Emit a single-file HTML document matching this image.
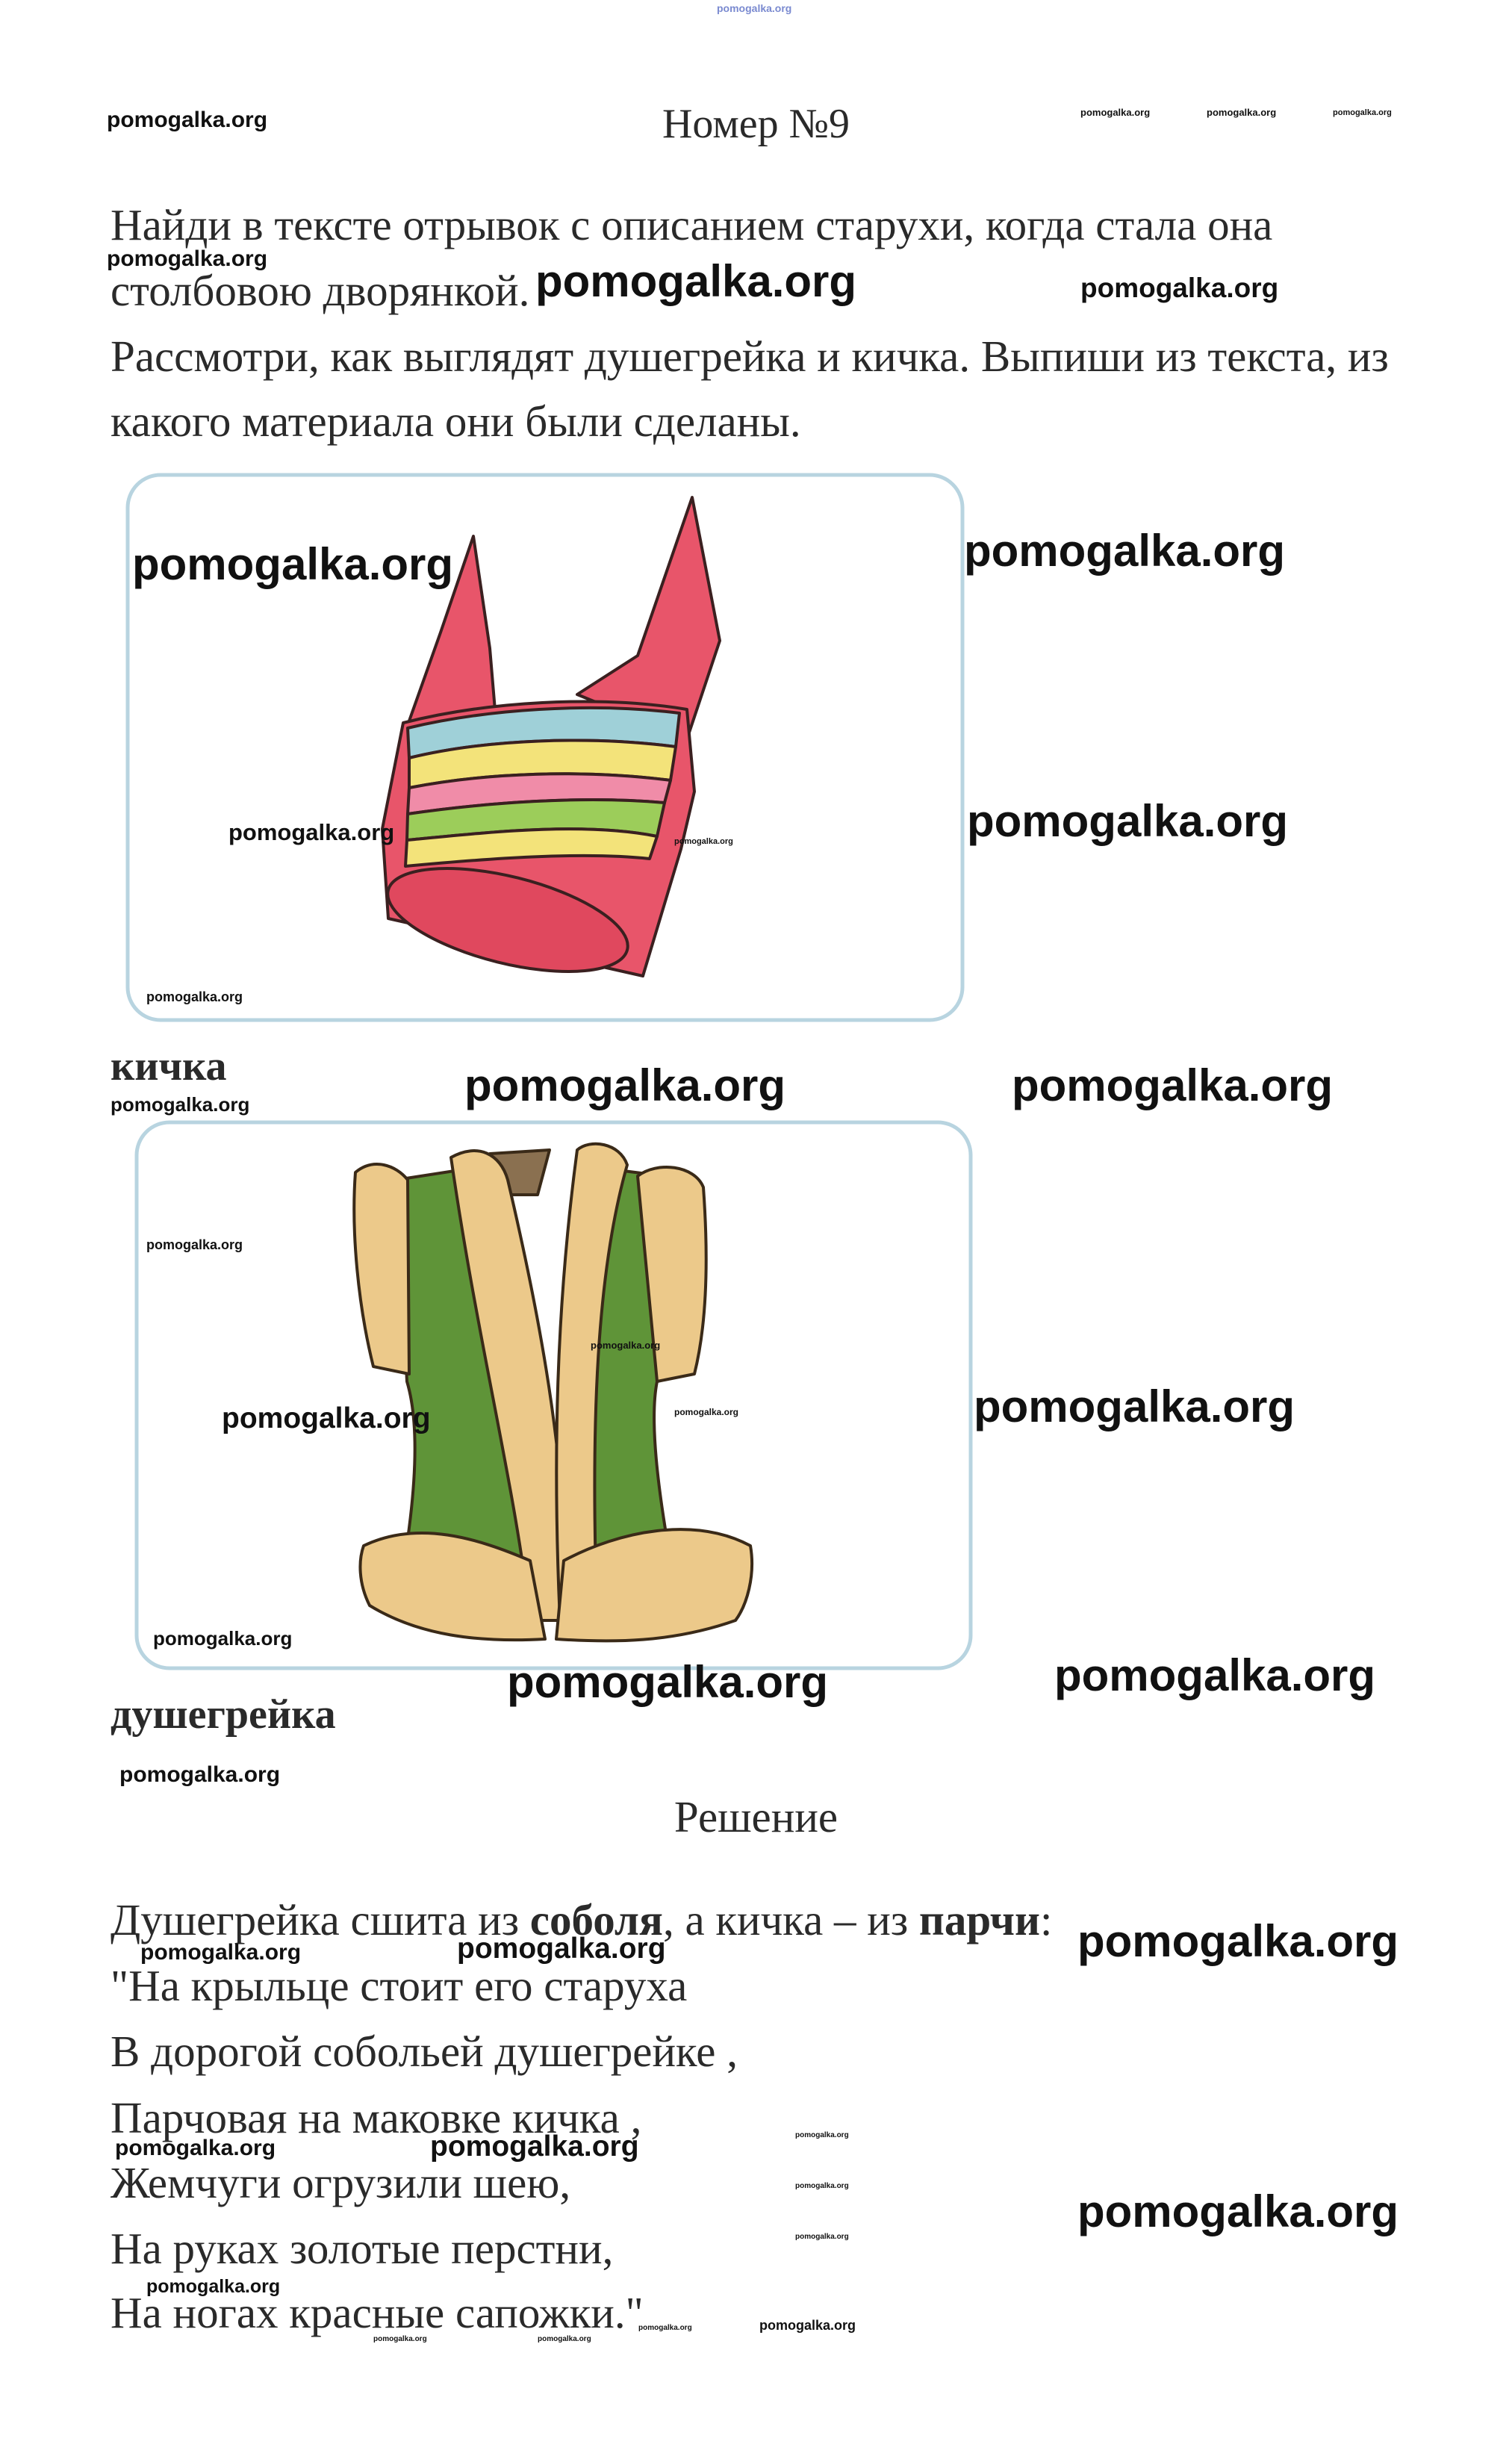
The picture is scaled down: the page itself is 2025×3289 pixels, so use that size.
<!DOCTYPE html>
<html><head><meta charset="utf-8"><style>
html,body{margin:0;padding:0;background:#fff}
body{width:2025px;height:3289px;position:relative;overflow:hidden}
.t{position:absolute;white-space:nowrap;line-height:1;font-family:"Liberation Serif","Noto Serif CJK SC",serif;color:#2a2a2a;font-size:59px}
.w{position:absolute;white-space:nowrap;line-height:1;font-family:"Liberation Sans","DejaVu Sans",sans-serif;color:#111;font-weight:bold}
svg{position:absolute;left:0;top:0}
</style></head><body>
<svg width="2025" height="3289" viewBox="0 0 2025 3289">
<rect x="171" y="636" width="1118" height="730" rx="44" fill="#fff" stroke="#b8d4e0" stroke-width="5"/>
<rect x="183" y="1503" width="1117" height="731" rx="44" fill="#fff" stroke="#b8d4e0" stroke-width="5"/>
<g stroke="#3a2020" stroke-width="4" stroke-linejoin="round">
<path d="M546,971 L590,847 L634,718 L656,868 L663,951 Z" fill="#e8556a"/>
<path d="M773,930 L854,878 L927,666 L964,858 L920,990 Z" fill="#e8556a"/>
<path d="M540,968 C650,940 800,930 920,950 L930,1060 L912,1137 L861,1307 L520,1230 L512,1110 Z" fill="#e8556a"/>
<path d="M546,975 C650,950 790,940 910,955 L905,1000 C790,985 650,990 548,1015 Z" fill="#9fd0d8"/>
<path d="M548,1015 C650,990 790,985 905,1000 L898,1045 C780,1030 650,1035 548,1055 Z" fill="#f3e37a"/>
<path d="M548,1055 C650,1035 780,1030 898,1045 L890,1075 C780,1065 650,1075 546,1090 Z" fill="#f08ca8"/>
<path d="M546,1090 C650,1075 780,1065 890,1075 L880,1120 C780,1100 650,1115 545,1125 Z" fill="#9ccd5a"/>
<path d="M545,1125 C650,1115 780,1100 880,1120 L870,1150 C780,1140 650,1150 543,1160 Z" fill="#f3e37a"/>
<ellipse cx="680" cy="1232" rx="165" ry="58" transform="rotate(14 680 1232)" fill="#e0485e"/>
</g>
<g stroke="#3a2a18" stroke-width="4" stroke-linejoin="round">
<path d="M656,1545 L736,1540 L720,1600 L670,1600 Z" fill="#8a7050"/>
<path d="M531,1580 L660,1560 C700,1700 720,1900 740,2150 L540,2100 C560,1980 560,1900 545,1850 Z" fill="#5f9438"/>
<path d="M773,1560 L890,1575 L880,1850 C870,1900 880,1990 900,2100 L740,2150 C745,1950 750,1750 773,1560 Z" fill="#5f9438"/>
<path d="M476,1570 C500,1550 530,1560 546,1580 L548,1840 L500,1830 C480,1750 470,1650 476,1570 Z" fill="#ecc98a"/>
<path d="M854,1575 C880,1555 930,1560 942,1590 C950,1700 945,1780 930,1840 L880,1850 Z" fill="#ecc98a"/>
<path d="M604,1550 C640,1530 670,1545 680,1580 C720,1750 760,1950 760,2170 L710,2170 C690,1990 640,1800 604,1550 Z" fill="#ecc98a"/>
<path d="M773,1540 C790,1525 830,1530 840,1560 C800,1700 790,1900 800,2170 L750,2170 C740,1950 745,1750 773,1540 Z" fill="#ecc98a"/>
<path d="M487,2070 C560,2035 640,2060 710,2090 L730,2195 C640,2200 560,2190 495,2150 C480,2120 480,2090 487,2070 Z" fill="#ecc98a"/>
<path d="M755,2090 C830,2050 930,2030 1005,2070 C1012,2110 1000,2150 985,2170 C900,2200 820,2200 745,2195 Z" fill="#ecc98a"/>
</g>
</svg>

<div class="w" style="left:960px;top:4px;font-size:14px;color:#7a8ad0">pomogalka.org</div>
<div class="w" style="left:143px;top:146px;font-size:30px">pomogalka.org</div>
<div class="t" style="left:0;width:2025px;text-align:center;top:138px;font-size:56px">Номер №9</div>
<div class="w" style="left:1447px;top:144px;font-size:13px">pomogalka.org</div>
<div class="w" style="left:1616px;top:144px;font-size:13px">pomogalka.org</div>
<div class="w" style="left:1785px;top:146px;font-size:11px">pomogalka.org</div>

<div class="t" style="left:148px;top:272px">Найди в тексте отрывок с описанием старухи, когда стала она</div>
<div class="w" style="left:143px;top:332px;font-size:30px">pomogalka.org</div>
<div class="t" style="left:148px;top:360px">столбовою дворянкой.</div>
<div class="w" style="left:717px;top:347px;font-size:60px">pomogalka.org</div>
<div class="w" style="left:1447px;top:367px;font-size:37px">pomogalka.org</div>
<div class="t" style="left:148px;top:448px">Рассмотри, как выглядят душегрейка и кичка. Выпиши из текста, из</div>
<div class="t" style="left:148px;top:535px">какого материала они были сделаны.</div>

<div class="w" style="left:177px;top:726px;font-size:60px">pomogalka.org</div>
<div class="w" style="left:1291px;top:708px;font-size:60px">pomogalka.org</div>
<div class="w" style="left:1295px;top:1070px;font-size:60px">pomogalka.org</div>
<div class="w" style="left:306px;top:1099px;font-size:31px">pomogalka.org</div>
<div class="w" style="left:903px;top:1122px;font-size:11px">pomogalka.org</div>
<div class="w" style="left:196px;top:1326px;font-size:18px">pomogalka.org</div>

<div class="t" style="left:148px;top:1400px;font-weight:bold;font-size:56px">кичка</div>
<div class="w" style="left:148px;top:1466px;font-size:26px">pomogalka.org</div>
<div class="w" style="left:622px;top:1424px;font-size:60px">pomogalka.org</div>
<div class="w" style="left:1355px;top:1424px;font-size:60px">pomogalka.org</div>

<div class="w" style="left:196px;top:1658px;font-size:18px">pomogalka.org</div>
<div class="w" style="left:791px;top:1795px;font-size:13px">pomogalka.org</div>
<div class="w" style="left:297px;top:1880px;font-size:39px">pomogalka.org</div>
<div class="w" style="left:903px;top:1885px;font-size:12px">pomogalka.org</div>
<div class="w" style="left:1304px;top:1854px;font-size:60px">pomogalka.org</div>
<div class="w" style="left:205px;top:2181px;font-size:26px">pomogalka.org</div>
<div class="w" style="left:679px;top:2223px;font-size:60px">pomogalka.org</div>
<div class="w" style="left:1412px;top:2214px;font-size:60px">pomogalka.org</div>

<div class="t" style="left:148px;top:2268px;font-weight:bold;font-size:56px">душегрейка</div>
<div class="w" style="left:160px;top:2362px;font-size:30px">pomogalka.org</div>
<div class="t" style="left:0;width:2025px;text-align:center;top:2404px">Решение</div>

<div class="t" style="left:148px;top:2542px">Душегрейка сшита из <b>соболя</b>, а кичка – из <b>парчи</b>:</div>
<div class="w" style="left:188px;top:2600px;font-size:30px">pomogalka.org</div>
<div class="w" style="left:612px;top:2590px;font-size:39px">pomogalka.org</div>
<div class="w" style="left:1443px;top:2570px;font-size:60px">pomogalka.org</div>
<div class="t" style="left:148px;top:2630px">"На крыльце стоит его старуха</div>
<div class="t" style="left:148px;top:2718px">В дорогой собольей душегрейке ,</div>
<div class="t" style="left:148px;top:2807px">Парчовая на маковке кичка ,</div>
<div class="w" style="left:154px;top:2862px;font-size:30px">pomogalka.org</div>
<div class="w" style="left:576px;top:2855px;font-size:39px">pomogalka.org</div>
<div class="w" style="left:1065px;top:2855px;font-size:10px">pomogalka.org</div>
<div class="t" style="left:148px;top:2894px">Жемчуги огрузили шею,</div>
<div class="w" style="left:1065px;top:2923px;font-size:10px">pomogalka.org</div>
<div class="w" style="left:1065px;top:2991px;font-size:10px">pomogalka.org</div>
<div class="w" style="left:1443px;top:2932px;font-size:60px">pomogalka.org</div>
<div class="t" style="left:148px;top:2982px">На руках золотые перстни,</div>
<div class="w" style="left:196px;top:3050px;font-size:25px">pomogalka.org</div>
<div class="t" style="left:148px;top:3068px">На ногах красные сапожки."</div>
<div class="w" style="left:855px;top:3113px;font-size:10px">pomogalka.org</div>
<div class="w" style="left:1017px;top:3105px;font-size:18px">pomogalka.org</div>
<div class="w" style="left:500px;top:3128px;font-size:10px">pomogalka.org</div>
<div class="w" style="left:720px;top:3128px;font-size:10px">pomogalka.org</div>
</body></html>
